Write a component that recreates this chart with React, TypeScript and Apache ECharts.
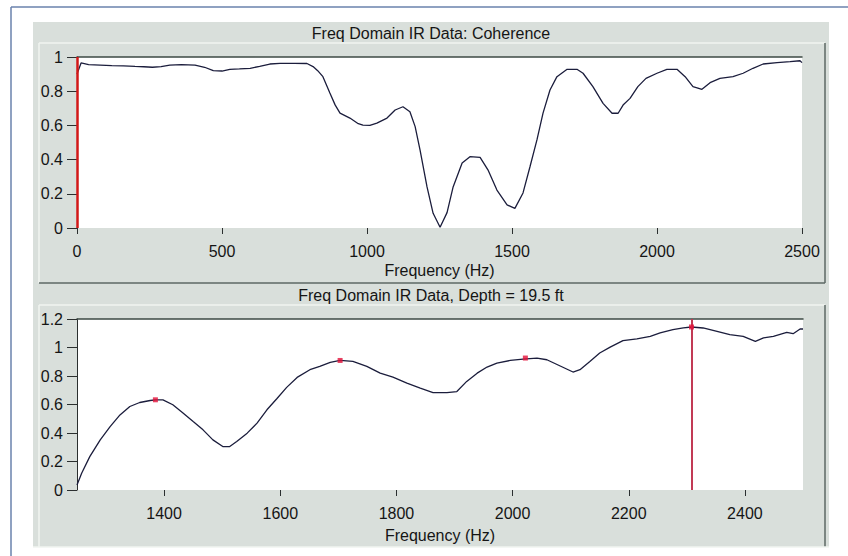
import React, { useEffect, useRef } from "react";
import * as echarts from "echarts";

const FONT = '"Liberation Sans", Arial, Helvetica, sans-serif';

// Top panel: coherence vs frequency
const cohFreq = [0, 14, 40, 80, 120, 160, 200, 230, 260, 290, 320, 360, 407, 440, 470, 500, 527, 560, 597, 630, 665, 700, 750, 793, 814, 830, 848, 872, 890, 907, 941, 970, 986, 1010, 1034, 1069, 1097, 1124, 1148, 1166, 1183, 1207, 1228, 1252, 1276, 1297, 1328, 1355, 1390, 1417, 1448, 1483, 1510, 1538, 1562, 1586, 1607, 1631, 1655, 1690, 1710, 1724, 1745, 1779, 1814, 1845, 1866, 1883, 1907, 1934, 1962, 2000, 2034, 2069, 2097, 2124, 2155, 2183, 2217, 2262, 2297, 2331, 2366, 2414, 2459, 2493, 2500];
const cohVal = [0.9, 0.965, 0.955, 0.953, 0.95, 0.948, 0.945, 0.943, 0.94, 0.944, 0.953, 0.955, 0.953, 0.94, 0.92, 0.918, 0.928, 0.93, 0.934, 0.945, 0.959, 0.963, 0.963, 0.962, 0.944, 0.92, 0.885, 0.79, 0.72, 0.672, 0.643, 0.61, 0.602, 0.6, 0.613, 0.643, 0.69, 0.709, 0.68, 0.593, 0.456, 0.24, 0.086, 0.004, 0.09, 0.24, 0.38, 0.417, 0.413, 0.34, 0.222, 0.135, 0.115, 0.205, 0.358, 0.515, 0.672, 0.807, 0.885, 0.928, 0.928, 0.928, 0.905, 0.827, 0.729, 0.671, 0.671, 0.719, 0.758, 0.827, 0.875, 0.905, 0.928, 0.928, 0.885, 0.827, 0.811, 0.85, 0.875, 0.885, 0.905, 0.934, 0.959, 0.967, 0.973, 0.978, 0.967];

// Bottom panel: IR data at depth 19.5 ft
const irFreq = [1250, 1258, 1272, 1290, 1307, 1324, 1341, 1358, 1376, 1385, 1398, 1415, 1433, 1450, 1467, 1484, 1501, 1513, 1525, 1543, 1560, 1577, 1594, 1611, 1629, 1651, 1668, 1686, 1703, 1725, 1749, 1772, 1794, 1818, 1841, 1863, 1887, 1904, 1921, 1939, 1956, 1973, 1996, 2018, 2042, 2059, 2082, 2104, 2116, 2133, 2150, 2168, 2190, 2214, 2237, 2254, 2276, 2294, 2308, 2328, 2352, 2374, 2397, 2418, 2432, 2449, 2472, 2483, 2495, 2500];
const irVal = [0.035, 0.117, 0.234, 0.352, 0.445, 0.527, 0.586, 0.614, 0.628, 0.633, 0.633, 0.598, 0.539, 0.48, 0.422, 0.352, 0.305, 0.305, 0.34, 0.399, 0.469, 0.563, 0.64, 0.72, 0.79, 0.844, 0.867, 0.895, 0.909, 0.902, 0.867, 0.82, 0.792, 0.75, 0.715, 0.684, 0.684, 0.691, 0.762, 0.82, 0.863, 0.891, 0.909, 0.919, 0.926, 0.914, 0.87, 0.828, 0.844, 0.902, 0.961, 1.003, 1.048, 1.06, 1.078, 1.102, 1.125, 1.137, 1.144, 1.137, 1.113, 1.09, 1.078, 1.043, 1.067, 1.078, 1.106, 1.097, 1.13, 1.13];

// Peak markers and cursors
const peakFreq = [1385, 1703, 2022, 2308];
const peakVal = [0.633, 0.909, 0.926, 1.144];
const topCursor = 0;
const bottomCursor = 2308;

// Tick values
const bottomTicks = [1400, 1600, 1800, 2000, 2200, 2400];

const topTitle = "Freq Domain IR Data: Coherence";
const bottomTitle = "Freq Domain IR Data, Depth = 19.5 ft";
const xName = "Frequency (Hz)";

const zip = (a: number[], b: number[]) => a.map((v, i) => [v, b[i]]);
const plain = (v: number) => String(Math.round(v * 1000) / 1000);

export default function App() {
  const ref = useRef<HTMLDivElement>(null);
  useEffect(() => {
    if (!ref.current) return;
    const chart = echarts.init(ref.current, null, { renderer: "svg" });
    const dark = "#5d6964";
    const light = "#f1f4f1";
    const axisCol = "#2b2f2f";
    const textCol = "#151515";
    const line = (x1: number, y1: number, x2: number, y2: number, stroke: string, w = 1.5) => ({
      type: "line",
      shape: { x1, y1, x2, y2 },
      style: { stroke, lineWidth: w },
      z: -10,
      silent: true,
    });
    const xBase = {
      type: "value",
      position: "bottom",
      offset: 3,
      axisLine: { show: false },
      axisTick: { show: true, length: 6, lineStyle: { color: axisCol } },
      axisLabel: { margin: 12, fontSize: 16, color: textCol, fontFamily: FONT, formatter: plain },
      splitLine: { show: false },
      name: xName,
      nameLocation: "middle",
      nameTextStyle: { fontSize: 16, color: textCol, fontFamily: FONT },
    };
    const xFrame = {
      type: "value",
      position: "top",
      axisLine: { show: true, lineStyle: { color: "#3d4a44", width: 1.5 } },
      axisTick: { show: false },
      axisLabel: { show: false },
      splitLine: { show: false },
    };
    const yBase = {
      type: "value",
      min: 0,
      interval: 0.2,
      axisLine: { show: true, lineStyle: { color: axisCol } },
      axisTick: { show: true, length: 10, lineStyle: { color: axisCol } },
      axisLabel: { margin: 14, fontSize: 16, color: textCol, fontFamily: FONT, formatter: plain },
      splitLine: { show: false },
    };
    const option: any = {
      animation: false,
      backgroundColor: "#ffffff",
      textStyle: { fontFamily: FONT },
      graphic: [
        { type: "rect", shape: { x: 33, y: 22, width: 796, height: 525 }, style: { fill: "#d9dfdb" }, z: -20, silent: true },
        line(11, 7, 848, 7, "#6a82ad"),
        line(11, 7, 11, 556, "#6a82ad"),
        line(39, 43, 825, 43, light),
        line(39, 43, 39, 283, light),
        line(825, 43, 825, 283, dark),
        line(39, 283, 825, 283, dark),
        line(39, 305, 825, 305, light),
        line(39, 305, 39, 547, light),
        line(825, 305, 825, 547, dark),
        line(33, 547, 829, 547, light),
        {
          type: "text",
          x: 431,
          y: 33,
          style: { text: topTitle, font: `16px ${FONT}`, fill: textCol, textAlign: "center", textVerticalAlign: "middle" },
          silent: true,
        },
        {
          type: "text",
          x: 431,
          y: 295,
          style: { text: bottomTitle, font: `16px ${FONT}`, fill: textCol, textAlign: "center", textVerticalAlign: "middle" },
          silent: true,
        },
      ],
      grid: [
        { left: 77, top: 57, width: 725, height: 171, show: true, backgroundColor: "#ffffff", borderWidth: 0 },
        { left: 77, top: 319, width: 726, height: 171, show: true, backgroundColor: "#ffffff", borderWidth: 0 },
      ],
      xAxis: [
        { ...xBase, gridIndex: 0, min: 0, max: 2500, interval: 500, nameGap: 31 },
        { ...xFrame, gridIndex: 0, min: 0, max: 2500 },
        {
          ...xBase,
          gridIndex: 1,
          min: 1250,
          max: 2500,
          nameGap: 34,
          axisTick: { show: true, length: 6, lineStyle: { color: axisCol }, customValues: bottomTicks },
          axisLabel: { margin: 12, fontSize: 16, color: textCol, fontFamily: FONT, formatter: plain, customValues: bottomTicks },
        },
        { ...xFrame, gridIndex: 1, min: 1250, max: 2500 },
      ],
      yAxis: [
        { ...yBase, gridIndex: 0, max: 1 },
        { ...yBase, gridIndex: 1, max: 1.2 },
      ],
      series: [
        {
          type: "line",
          xAxisIndex: 0,
          yAxisIndex: 0,
          data: zip(cohFreq, cohVal),
          showSymbol: false,
          lineStyle: { color: "#1b1d3c", width: 1.3 },
          markLine: {
            silent: true,
            symbol: ["none", "none"],
            label: { show: false },
            lineStyle: { color: "#d21818", width: 2.5, type: "solid" },
            data: [{ xAxis: topCursor }],
          },
        },
        {
          type: "line",
          xAxisIndex: 2,
          yAxisIndex: 1,
          data: zip(irFreq, irVal),
          showSymbol: false,
          lineStyle: { color: "#1b1d3c", width: 1.3 },
          markLine: {
            silent: true,
            symbol: ["none", "none"],
            label: { show: false },
            lineStyle: { color: "#c23a55", width: 2, type: "solid" },
            data: [{ xAxis: bottomCursor }],
          },
        },
        {
          type: "scatter",
          xAxisIndex: 2,
          yAxisIndex: 1,
          data: zip(peakFreq, peakVal),
          symbol: "rect",
          symbolSize: 5,
          itemStyle: { color: "#e3123a" },
          z: 5,
        },
      ],
    };
    chart.setOption(option);
    return () => chart.dispose();
  }, []);
  return (
    <div
      ref={ref}
      style={{ position: "absolute", left: 0, top: 0, width: 848, height: 556, background: "#fff" }}
    />
  );
}
